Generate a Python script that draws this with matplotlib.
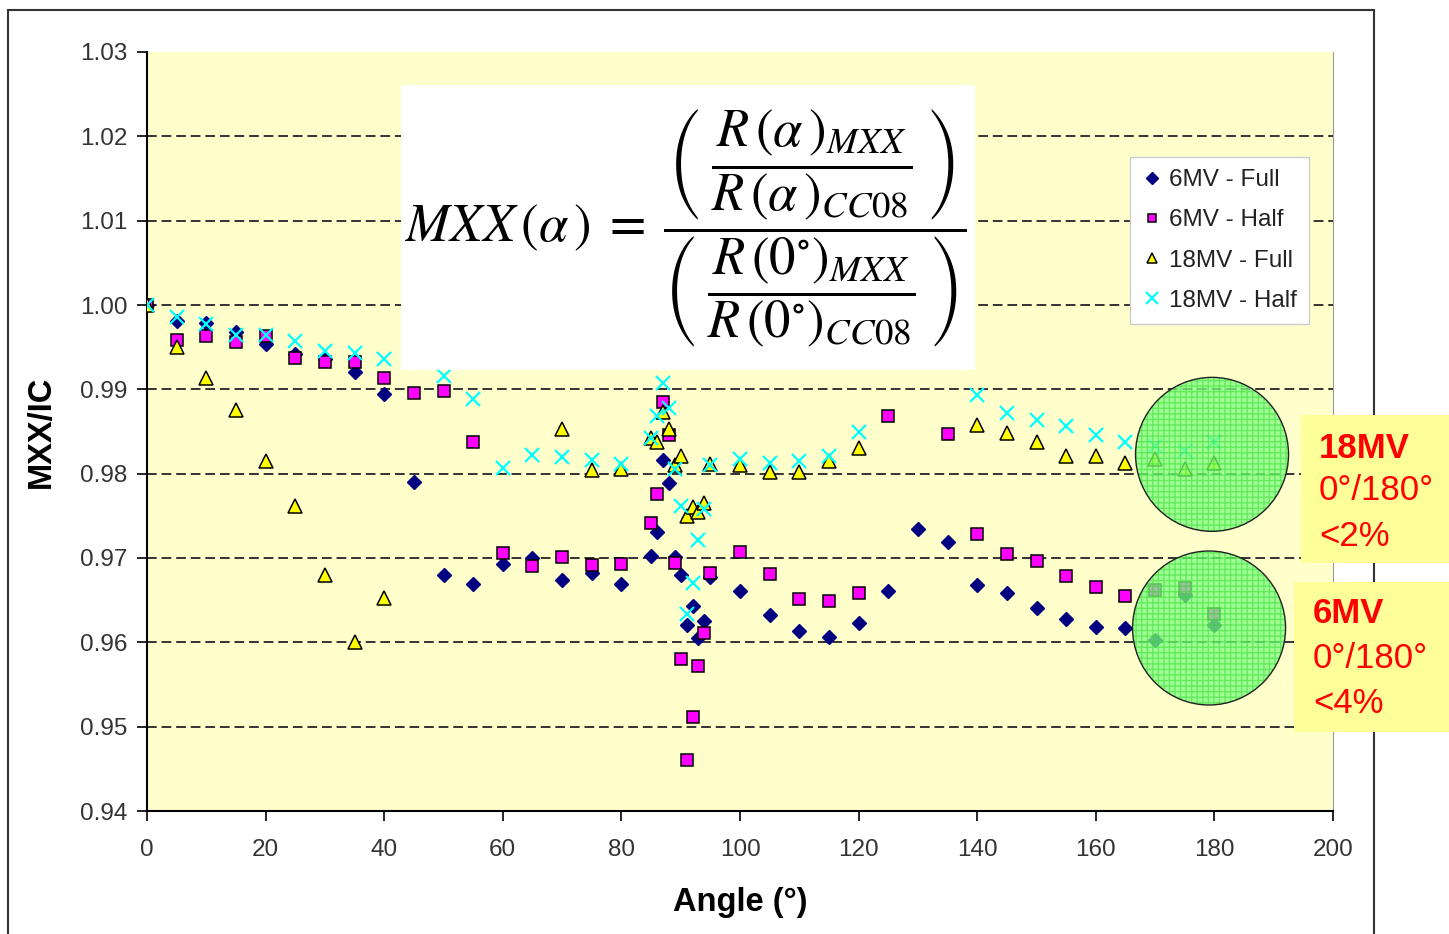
import numpy as np
import matplotlib
matplotlib.use("Agg")
import matplotlib.pyplot as plt
from matplotlib.patches import Ellipse, Rectangle
from matplotlib.ticker import FormatStrFormatter

plt.rcParams['font.family'] = ['Liberation Sans', 'DejaVu Sans']
plt.rcParams['mathtext.fontset'] = 'stix'
plt.rcParams['hatch.linewidth'] = 1.0

# ---- data ----
ang_6_full = [0, 5, 10, 15, 20, 25, 30, 35, 40, 45, 50, 55, 60, 65, 70, 75, 80,
              85, 86, 87, 88, 89, 90, 91, 92, 93, 94, 95, 100, 105, 110, 115, 120,
              125, 130, 135, 140, 145, 150, 155, 160, 165, 170, 175, 180]
val_6_full = [1.000, 0.9981, 0.9979, 0.9968, 0.9954, 0.9942, 0.9936, 0.9921, 0.9894,
              0.9790, 0.9680, 0.9669, 0.9693, 0.9700, 0.9674, 0.9682, 0.9669,
              0.9702, 0.9731, 0.9816, 0.9789, 0.9701, 0.9680, 0.9620, 0.9643, 0.9605,
              0.9625, 0.9677, 0.9661, 0.9633, 0.9614, 0.9606, 0.9623, 0.9661, 0.9734,
              0.9719, 0.9668, 0.9659, 0.9641, 0.9628, 0.9618, 0.9617, 0.9603, 0.9656,
              0.9620]

ang_6_half = [0, 5, 10, 15, 20, 25, 30, 35, 40, 45, 50, 55, 60, 65, 70, 75, 80,
              85, 86, 87, 88, 89, 90, 91, 92, 93, 94, 95, 100, 105, 110, 115, 120,
              125, 135, 140, 145, 150, 155, 160, 165, 170, 175, 180]
val_6_half = [1.000, 0.9959, 0.9963, 0.9956, 0.9963, 0.9937, 0.9933, 0.9933, 0.9914,
              0.9896, 0.9898, 0.9838, 0.9706, 0.9690, 0.9701, 0.9692, 0.9693,
              0.9741, 0.9776, 0.9885, 0.9846, 0.9694, 0.9580, 0.9460, 0.9512, 0.9572,
              0.9611, 0.9682, 0.9707, 0.9681, 0.9651, 0.9649, 0.9658, 0.9868, 0.9847,
              0.9728, 0.9705, 0.9696, 0.9679, 0.9666, 0.9655, 0.9662, 0.9664, 0.9634]

ang_18_full = [0, 5, 10, 15, 20, 25, 30, 35, 40, 70, 75, 80, 85, 86, 87, 88, 89, 90,
               91, 92, 93, 94, 95, 100, 105, 110, 115, 120, 140, 145, 150, 155, 160,
               165, 170, 175, 180]
val_18_full = [1.000, 0.9950, 0.9913, 0.9875, 0.9815, 0.9762, 0.9680, 0.9600, 0.9652,
               0.9853, 0.9804, 0.9805, 0.9842, 0.9838, 0.9873, 0.9853, 0.9810, 0.9821,
               0.9750, 0.9761, 0.9754, 0.9765, 0.9811, 0.9810, 0.9802, 0.9802, 0.9815,
               0.9830, 0.9858, 0.9848, 0.9837, 0.9821, 0.9821, 0.9813, 0.9817, 0.9805,
               0.9813]

ang_18_half = [0, 5, 10, 15, 20, 25, 30, 35, 40, 50, 55, 60, 65, 70, 75, 80, 85, 86,
               87, 88, 89, 90, 91, 92, 93, 94, 95, 100, 105, 110, 115, 120, 140, 145,
               150, 155, 160, 165, 170, 175, 180]
val_18_half = [1.000, 0.9986, 0.9978, 0.9965, 0.9965, 0.9957, 0.9945, 0.9943, 0.9936,
               0.9916, 0.9889, 0.9807, 0.9822, 0.9820, 0.9816, 0.9812, 0.9842, 0.9868,
               0.9908, 0.9878, 0.9806, 0.9762, 0.9634, 0.9670, 0.9721, 0.9758, 0.9810,
               0.9817, 0.9813, 0.9815, 0.9821, 0.9850, 0.9893, 0.9872, 0.9864, 0.9857,
               0.9846, 0.9837, 0.9833, 0.9827, 0.9837]

x_ticks = [0, 20, 40, 60, 80, 100, 120, 140, 160, 180, 200]
y_ticks = [0.94, 0.95, 0.96, 0.97, 0.98, 0.99, 1.00, 1.01, 1.02, 1.03]

note_18 = ['18MV', '0°/180°', '<2%']
note_6 = ['6MV', '0°/180°', '<4%']

formula = (r'$MXX\,(\alpha\,)\;=\;\dfrac{\left(\;\dfrac{R\,(\alpha\,)_{MXX}}'
           r'{R\,(\alpha\,)_{CC08}}\;\right)}{\left(\;\dfrac{R\,(0^{\circ})_{MXX}}'
           r'{R\,(0^{\circ})_{CC08}}\;\right)}$')

W, H = 1449, 934
fig = plt.figure(figsize=(W / 100, H / 100), dpi=100)
fig.patch.set_facecolor('white')

ax = fig.add_axes([147 / W, 1 - 811 / H, (1333 - 147) / W, (811 - 52) / H])
ax.set_facecolor('#FFFFCC')
ax.set_xlim(0, 200)
ax.set_ylim(0.94, 1.03)

# dashed gridlines (not on the frame edges)
ax.hlines(y_ticks[1:-1], 0, 200, colors='#333333', linestyles=(0, (5, 2.5)),
          linewidth=1.4, zorder=1)

ax.plot(ang_6_full, val_6_full, linestyle='none', marker='D', ms=7.5,
        color='#000080', mec='#000080', label='6MV - Full', zorder=3)
ax.plot(ang_6_half, val_6_half, linestyle='none', marker='s', ms=8,
        color='#FF00FF', mec='black', mew=1.1, label='6MV - Half', zorder=3)
ax.plot(ang_18_full, val_18_full, linestyle='none', marker='^', ms=9.5,
        color='#FFFF00', mec='black', mew=1.1, label='18MV - Full', zorder=3)
ax.plot(ang_18_half, val_18_half, linestyle='none', marker='x', ms=10,
        color='#00FFFF', mew=1.6, label='18MV - Half', zorder=3)

# green highlight circles round 180 deg
for cx, cy in [(179.6, 0.98229), (179.1, 0.9617)]:
    ax.add_patch(Ellipse((cx, cy), 25.8, 0.01826, facecolor=(0.5, 1.0, 0.5, 0.75),
                         edgecolor='none', zorder=4))
    ax.add_patch(Ellipse((cx, cy), 25.8, 0.01826, facecolor='none',
                         edgecolor=(0.2, 0.85, 0.2, 0.55), hatch='+++', lw=0, zorder=4))
    ax.add_patch(Ellipse((cx, cy), 25.8, 0.01826, facecolor='none',
                         edgecolor='#222222', lw=1.0, zorder=4))

ax.set_xticks(x_ticks)
ax.set_yticks(y_ticks)
ax.yaxis.set_major_formatter(FormatStrFormatter('%.2f'))
ax.tick_params(axis='both', direction='out', length=7, width=1.2,
               labelsize=17.5, labelcolor='#333333')
ax.tick_params(axis='y', pad=7)
ax.tick_params(axis='x', pad=13)
ax.spines['top'].set_visible(False)
ax.spines['right'].set_color('#999999')
ax.spines['left'].set_linewidth(1.5)
ax.spines['bottom'].set_linewidth(1.5)

ax.set_xlabel('Angle (°)', fontsize=23.5, fontweight='bold', labelpad=19)
ax.set_ylabel('MXX/IC', fontsize=23.5, fontweight='bold', labelpad=17)

leg = ax.legend(loc='upper left', bbox_to_anchor=(1130 / W, 1 - 157 / H),
                bbox_transform=fig.transFigure, borderaxespad=0, frameon=True,
                fancybox=False, framealpha=1, edgecolor='#cccccc', fontsize=17.5,
                markerscale=0.8, handlelength=0.8, handletextpad=0.3,
                borderpad=0.5, labelspacing=0.75)
leg.set_zorder(6)
for t in leg.get_texts():
    t.set_color('#222222')

# white formula box
fig.add_artist(Rectangle((401 / W, 1 - 370 / H), (975 - 401) / W, (370 - 85) / H,
                         transform=fig.transFigure, facecolor='white',
                         edgecolor='none', zorder=2))
fig.text(686 / W, 1 - 228 / H, formula, ha='center', va='center', fontsize=38,
         zorder=3)

# outer frame
fig.add_artist(Rectangle((8 / W, -0.05), (1374 - 8) / W, 1.05 - 10 / H,
                         transform=fig.transFigure, fill=False, lw=1.5,
                         edgecolor='#333333', zorder=1))

# yellow note boxes
for (x0, y0, y1, tx, baselines, lines) in [
        (1301, 415, 563, 1319, [458, 500, 546], note_18),
        (1294, 582, 732, 1313, [623, 668, 713], note_6)]:
    fig.add_artist(Rectangle((x0 / W, 1 - y1 / H), (W - x0) / W, (y1 - y0) / H,
                             transform=fig.transFigure, facecolor='#FFFF99',
                             edgecolor='none', zorder=4))
    for i, (b, s) in enumerate(zip(baselines, lines)):
        fig.text(tx / W, 1 - b / H, s, ha='left', va='baseline', fontsize=25,
                 color='red', fontweight='bold' if i == 0 else 'normal', zorder=5)

fig.savefig('out.png', dpi=100)
